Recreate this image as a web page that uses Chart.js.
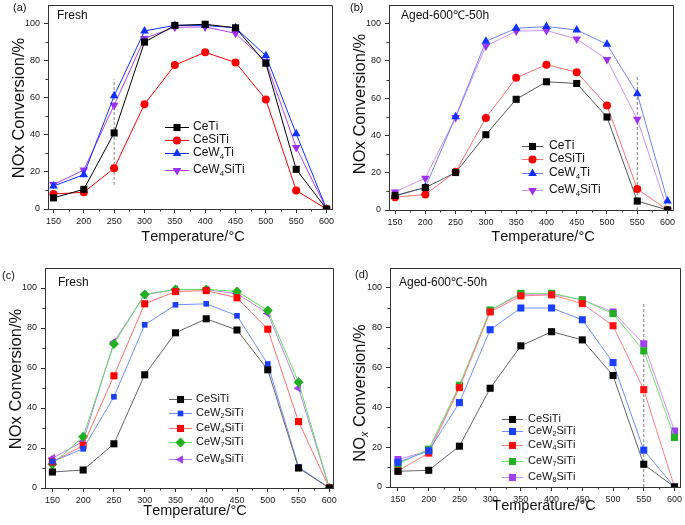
<!DOCTYPE html>
<html>
<head>
<meta charset="utf-8">
<script src="https://cdn.jsdelivr.net/npm/chart.js@4.4.0/dist/chart.umd.min.js"></script>
<style>
  body { margin: 0; background: #fff; width: 685px; height: 525px; position: relative; overflow: hidden; }
  canvas { position: absolute; }
</style>
</head>
<body>
<canvas id="pa" style="left:0;top:0" width="342" height="260"></canvas>
<canvas id="pb" style="left:342px;top:0" width="343" height="260"></canvas>
<canvas id="pc" style="left:0;top:260px" width="342" height="265"></canvas>
<canvas id="pd" style="left:342px;top:260px" width="343" height="265"></canvas>
<script>
// temperatures (x) and axis ticks
const temps = [150, 200, 250, 300, 350, 400, 450, 500, 550, 600];
const xTicks = [150, 200, 250, 300, 350, 400, 450, 500, 550, 600];
const xMinor = [175, 225, 275, 325, 375, 425, 475, 525, 575];
const yTicks = [0, 20, 40, 60, 80, 100];
const yMinor = [10, 30, 50, 70, 90];

// (a) fresh
const freshCeTi     = [6, 10.6, 41, 90, 99, 99.6, 97.7, 78.6, 21.4, 0];
const freshCeSiTi   = [8.1, 9, 22, 56.5, 77.6, 84.5, 79, 59, 10, 0];
const freshCeW4Ti   = [12.4, 18.5, 61, 96, 99, 99, 97.7, 82.7, 40.6, 0];
const freshCeW4SiTi = [13.2, 21, 56, 92, 98, 98.2, 94.7, 79.5, 33.2, 0];

// (b) aged 600 C 50 h
const agedCeTi     = [7.8, 12, 20.1, 40.4, 59.4, 68.8, 67.9, 49.9, 4.8, 0];
const agedCeSiTi   = [6.9, 8.3, 20.5, 49.4, 70.9, 78, 73.9, 56.1, 11.3, 0];
const agedCeW4Ti   = [7.4, 12.2, 50, 90.5, 97.5, 98.4, 96.6, 88.9, 62.4, 4.8];
const agedCeW4SiTi = [9.7, 17.1, 49.7, 88, 96, 96.3, 91.7, 80.8, 48.7, 0];

// (c) fresh, W loading
const freshW0 = [8, 9, 22.1, 56.6, 77.6, 84.6, 79, 59.1, 10, 0];
const freshW2 = [13.2, 19.6, 45.6, 81.6, 91.6, 92.1, 86.1, 62, 10.6, 0];
const freshW4 = [13, 21.3, 56.1, 92.1, 98.2, 98.7, 95.1, 79.4, 33.2, 0];
const freshW7 = [11.9, 25.6, 72, 96.8, 99.3, 99.3, 98.3, 88.8, 52.9, 0];
const freshW8 = [14.9, 23.3, 73, 96.6, 99.2, 99.2, 97.2, 87.3, 49.9, 0];

// (d) aged, W loading
const agedW0 = [7.9, 8.4, 20.5, 49.6, 70.9, 78, 73.9, 56, 11.4, 0];
const agedW2 = [12.4, 18.2, 42.4, 79, 89.9, 89.9, 84, 62.5, 18.5, 0];
const agedW4 = [8.1, 17, 49.9, 87.9, 96, 96.5, 92.1, 81, 48.9, 0];
const agedW7 = [11.6, 19, 51.1, 88.9, 97.3, 97.3, 94, 87.1, 68.4, 24.9];
const agedW8 = [13.8, 18.2, 50.4, 88.6, 96.8, 96.8, 94, 87.9, 71.9, 28.1];

// dashed guide lines: [x, yFrom, yTo]
const guideA = [250, 13, 70];
const guideB = [550, 0, 72];
const guideD = [550, 0, 92];

const labelsAB = ['CeTi', 'CeSiTi', 'CeW_4Ti', 'CeW_4SiTi'];
const labelsCD = ['CeSiTi', 'CeW_2SiTi', 'CeW_4SiTi', 'CeW_7SiTi', 'CeW_8SiTi'];

const FONT = "'Liberation Sans', Arial, sans-serif";

// draws text where "_c" makes c a subscript
function drawRich(ctx, str, x, y, size, align) {
  const parts = [];
  for (let i = 0; i < str.length; i++) {
    if (str[i] === '_') { parts.push({ t: str[i + 1], sub: true }); i++; }
    else parts.push({ t: str[i], sub: false });
  }
  const fontOf = p => (p.sub && /[a-z]/.test(p.t) ? 'italic ' : '') + (p.sub ? size * 0.65 : size) + 'px ' + FONT;
  let w = 0;
  parts.forEach(p => { ctx.font = fontOf(p); w += ctx.measureText(p.t).width; });
  let cx = align === 'center' ? x - w / 2 : x;
  ctx.textAlign = 'left';
  ctx.textBaseline = 'middle';
  parts.forEach(p => {
    ctx.font = fontOf(p);
    ctx.fillText(p.t, cx, p.sub ? y + size * 0.3 : y);
    cx += ctx.measureText(p.t).width;
  });
}

const decor = {
  id: 'decor',
  afterDraw(chart, args, o) {
    const ctx = chart.ctx, a = chart.chartArea, xs = chart.scales.x, ys = chart.scales.y;
    ctx.save();
    ctx.strokeStyle = '#333';
    ctx.lineWidth = 1;
    ctx.beginPath();
    ctx.moveTo(Math.round(a.left), Math.round(a.top) + 0.5);
    ctx.lineTo(Math.round(a.right) + 0.5, Math.round(a.top) + 0.5);
    ctx.lineTo(Math.round(a.right) + 0.5, Math.round(a.bottom));
    xMinor.forEach(v => {
      const px = Math.round(xs.getPixelForValue(v)) + 0.5;
      ctx.moveTo(px, a.bottom); ctx.lineTo(px, a.bottom + 2.5);
    });
    yMinor.forEach(v => {
      const py = Math.round(ys.getPixelForValue(v)) + 0.5;
      ctx.moveTo(a.left, py); ctx.lineTo(a.left - 2.5, py);
    });
    ctx.stroke();

    ctx.fillStyle = '#111';
    drawRich(ctx, o.tag[0], o.tag[1], o.tag[2], 11, 'left');
    drawRich(ctx, o.note[0], o.note[1], o.note[2], 12, 'left');
    drawRich(ctx, 'Temperature/°C', o.xTitle[0], o.xTitle[1], 14.5, 'center');
    ctx.save();
    ctx.translate(o.yTitle[1], o.yTitle[2]);
    ctx.rotate(-Math.PI / 2);
    drawRich(ctx, o.yTitle[0], 0, 0, 16.5, 'center');
    ctx.restore();

    // legend
    const lg = o.legend;
    lg.rows.forEach((ry, i) => {
      const ds = chart.data.datasets[i];
      ctx.strokeStyle = ds.borderColor;
      ctx.lineWidth = 1;
      ctx.beginPath();
      ctx.moveTo(lg.x0, ry + 0.5); ctx.lineTo(lg.x1, ry + 0.5);
      ctx.stroke();
      ctx.fillStyle = ds.pointBackgroundColor;
      Chart.helpers.drawPoint(ctx, { pointStyle: ds.pointStyle, rotation: ds.pointRotation || 0, radius: ds.pointRadius, borderWidth: 0 }, (lg.x0 + lg.x1) / 2, ry + 0.5);
      ctx.fillStyle = '#111';
      drawRich(ctx, ds.label, lg.tx, ry, lg.size, 'left');
    });
    ctx.restore();
  }
};

function series(label, vals, line, mark, style, radius, rot) {
  return {
    label: label,
    data: temps.map((t, i) => ({ x: t, y: vals[i] })),
    borderColor: line,
    borderWidth: 1,
    pointBackgroundColor: mark,
    pointBorderColor: mark,
    pointBorderWidth: 0,
    pointStyle: style,
    pointRotation: rot || 0,
    pointRadius: radius,
    tension: 0
  };
}

function guide(g) {
  return {
    label: 'guide',
    data: [{ x: g[0], y: g[1] }, { x: g[0], y: g[2] }],
    borderColor: '#808080',
    borderWidth: 1,
    borderDash: [3, 2],
    pointRadius: 0
  };
}

function makeChart(id, W, H, area, xr, datasets, deco) {
  return new Chart(document.getElementById(id), {
    type: 'line',
    data: { datasets: datasets },
    options: {
      responsive: false,
      animation: false,
      layout: { padding: { top: area.top, right: W - area.right, left: 0, bottom: 0 } },
      plugins: { legend: { display: false }, tooltip: { enabled: false }, decor: deco },
      scales: {
        x: {
          type: 'linear', min: xr[0], max: xr[1],
          afterBuildTicks: s => { s.ticks = xTicks.map(v => ({ value: v })); },
          afterFit: s => { s.height = H - area.bottom; s.paddingLeft = 0; s.paddingRight = 0; },
          grid: { display: true, drawOnChartArea: false, drawTicks: true, tickLength: 4, color: '#333' },
          border: { display: true, color: '#333', width: 1 },
          ticks: { font: { size: 9, family: FONT }, color: '#222', padding: 3, maxRotation: 0, autoSkip: false }
        },
        y: {
          type: 'linear', min: 0, max: 110,
          afterBuildTicks: s => { s.ticks = yTicks.map(v => ({ value: v })); },
          afterFit: s => { s.width = area.left; s.paddingTop = 0; s.paddingBottom = 0; },
          grid: { display: true, drawOnChartArea: false, drawTicks: true, tickLength: 4, color: '#333' },
          border: { display: true, color: '#333', width: 1 },
          ticks: { font: { size: 9, family: FONT }, color: '#222', padding: 4 }
        }
      }
    },
    plugins: [decor]
  });
}

makeChart('pa', 342, 260, { left: 48, right: 332, top: 2, bottom: 209 }, [141, 609], [
  series(labelsAB[0], freshCeTi, '#000000', '#000000', 'rect', 5),
  series(labelsAB[1], freshCeSiTi, '#ff0000', '#ff0000', 'circle', 4),
  series(labelsAB[2], freshCeW4Ti, '#1030ff', '#1030ff', 'triangle', 5),
  series(labelsAB[3], freshCeW4SiTi, '#b040f0', '#a030f0', 'triangle', 5, 180),
  guide(guideA)
], {
  tag: ['(a)', 13, 8], note: ['Fresh', 57, 16], xTitle: [193, 237], yTitle: ['NOx Conversion/%', 19, 108],
  legend: { x0: 165, x1: 189, tx: 193, size: 12, rows: [127, 140, 153, 170] }
});

makeChart('pb', 343, 260, { left: 47, right: 331, top: 2, bottom: 210 }, [140, 609], [
  series(labelsAB[0], agedCeTi, '#555555', '#000000', 'rect', 5),
  series(labelsAB[1], agedCeSiTi, '#ff7070', '#ff0000', 'circle', 4),
  series(labelsAB[2], agedCeW4Ti, '#7080ff', '#1030ff', 'triangle', 5),
  series(labelsAB[3], agedCeW4SiTi, '#d090f0', '#a030f0', 'triangle', 5, 180),
  guide(guideB)
], {
  tag: ['(b)', 8, 8], note: ['Aged-600℃-50h', 59, 16], xTitle: [201, 237], yTitle: ['NOx Conversion/%', 18, 104],
  legend: { x0: 180, x1: 201, tx: 207, size: 12, rows: [146, 159, 173, 190] }
});

makeChart('pc', 342, 265, { left: 45, right: 333, top: 8, bottom: 228 }, [138, 606], [
  series(labelsCD[0], freshW0, '#666666', '#000000', 'rect', 5),
  series(labelsCD[1], freshW2, '#7090ff', '#1a40ff', 'rect', 4),
  series(labelsCD[2], freshW4, '#ff7070', '#ff0000', 'rect', 5),
  series(labelsCD[3], freshW7, '#60e060', '#20b020', 'rectRot', 5),
  series(labelsCD[4], freshW8, '#c080f0', '#a040f0', 'triangle', 5, 270)
], {
  tag: ['(c)', 2, 16], note: ['Fresh', 58, 23], xTitle: [195, 251], yTitle: ['NOx Conversion/%', 16, 119],
  legend: { x0: 169, x1: 192, tx: 196, size: 11, rows: [139, 153, 168, 182, 199] }
});

makeChart('pd', 343, 265, { left: 48, right: 339, top: 8, bottom: 227 }, [137, 609], [
  series(labelsCD[0], agedW0, '#666666', '#000000', 'rect', 5),
  series(labelsCD[1], agedW2, '#7090ff', '#1a40ff', 'rect', 5),
  series(labelsCD[2], agedW4, '#ff8080', '#ff1010', 'rect', 5),
  series(labelsCD[3], agedW7, '#70e070', '#20b020', 'rect', 5),
  series(labelsCD[4], agedW8, '#d090f0', '#a040f0', 'rect', 5),
  guide(guideD)
], {
  tag: ['(d)', 13, 15], note: ['Aged-600℃-50h', 57, 23], xTitle: [202, 246], yTitle: ['NO_x Conversion/%', 18, 133],
  legend: { x0: 160, x1: 181, tx: 186, size: 11, rows: [159, 171, 185, 201, 217] }
});
</script>
</body>
</html>
